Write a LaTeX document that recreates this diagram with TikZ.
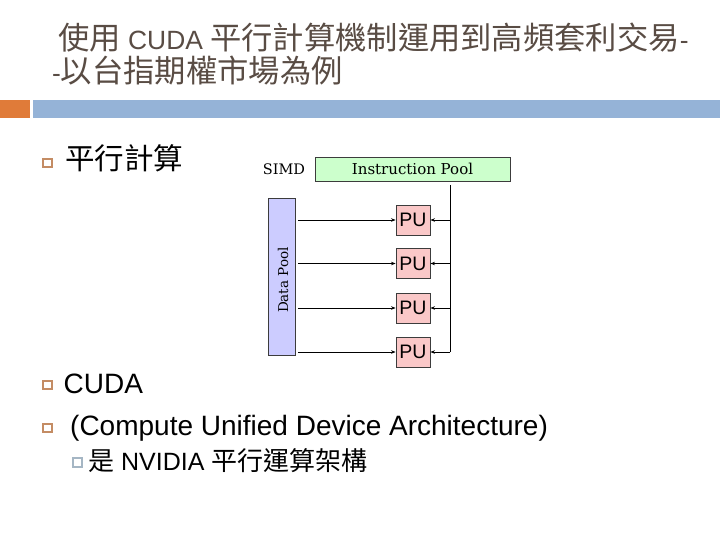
\documentclass[tikz,border=0pt]{standalone}
\usepackage{fontspec}
\setmainfont{Liberation Sans}
\newfontfamily\cjk{Noto Sans CJK TC}
\newfontfamily\dserif{DejaVu Serif}
\usetikzlibrary{arrows.meta}
\definecolor{titlecol}{RGB}{89,76,68}
\definecolor{orangebar}{RGB}{224,123,57}
\definecolor{bluebar}{RGB}{149,179,215}
\definecolor{bulcol}{RGB}{196,140,100}
\definecolor{subbulcol}{RGB}{165,182,196}
\definecolor{ipgreen}{RGB}{204,255,204}
\definecolor{dpblue}{RGB}{204,204,255}
\definecolor{pupink}{RGB}{250,200,200}
\definecolor{edgecol}{RGB}{60,60,60}
\newcommand\titlecjk[1]{{\cjk\fontsize{31.3}{32}\selectfont #1}}
\newcommand\bodycjk[1]{{\cjk\fontsize{29.5}{30}\selectfont #1}}
\newcommand\subcjk[1]{{\cjk\fontsize{26}{26}\selectfont #1}}
\begin{document}
\begin{tikzpicture}[x=1pt,y=-1pt,
  bul/.style={draw=bulcol,line width=2.4pt,minimum size=8.5pt,inner sep=0pt},
  subbul/.style={draw=subbulcol,line width=1.5pt,minimum size=9pt,inner sep=0pt},
  bodytext/.style={anchor=base west,inner sep=0pt,font=\fontsize{28}{30}\selectfont},
  boxbase/.style={draw=edgecol,line width=0.9pt,inner sep=0pt},
  pubox/.style={boxbase,fill=pupink,minimum width=34pt,minimum height=30pt,font=\fontsize{19.5}{20}\selectfont},
  serifl/.style={font=\dserif\fontsize{13.5}{14}\selectfont,inner sep=0pt},
  arr/.style={draw=black,line width=0.9pt,-{Stealth[length=4.5pt,width=3.5pt]}}
]
\useasboundingbox (0,0) rectangle (720,540);
\fill[white] (0,0) rectangle (720,540);

% title
\node[anchor=base west,inner sep=0pt,text=titlecol,font=\fontsize{26.4}{28}\selectfont] (title1) at (58,50)
  {\titlecjk{使用} CUDA \titlecjk{平行計算機制運用到高頻套利交易}-};
\node[anchor=base west,inner sep=0pt,text=titlecol,font=\fontsize{26.4}{28}\selectfont] (title2) at (52,83)
  {-\titlecjk{以台指期權市場為例}};

% bars
\fill[orangebar] (0,100) rectangle (30,118);
\fill[bluebar] (33,100) rectangle (720,118);

% bullets
\node[bul] (b1) at (47.5,163) {};
\node[bodytext] (t1) at (65,170) {\bodycjk{平行計算}};
\node[bul] (b2) at (47.5,385) {};
\node[bodytext] (t2) at (63.5,393) {CUDA};
\node[bul] (b3) at (47.5,428) {};
\node[bodytext] (t3) at (70,435) {(Compute Unified Device Architecture)};
\node[subbul] (b4) at (77.5,462.5) {};
\node[anchor=base west,inner sep=0pt,font=\fontsize{25}{26}\selectfont] (t4) at (88,470) {\subcjk{是} NVIDIA \subcjk{平行運算架構}};

% SIMD diagram
\node[serifl,font=\dserif\fontsize{14.5}{15}\selectfont] (simd) at (284,169) {SIMD};
\node[boxbase,fill=ipgreen,minimum width=195pt,minimum height=24pt,font=\dserif\fontsize{15}{15}\selectfont] (ip) at (412.5,169) {Instruction Pool};
\node[boxbase,fill=dpblue,minimum width=27pt,minimum height=157pt] (dp) at (281.5,276.5) {};
\node[serifl,rotate=90] (dpl) at (283,280) {Data Pool};
\node[pubox] (pu1) at (413,220) {PU};
\node[pubox] (pu2) at (413,263.5) {PU};
\node[pubox] (pu3) at (413,308) {PU};
\node[pubox] (pu4) at (413,352) {PU};
\coordinate (vtop) at (450,185);
\coordinate (vbot) at (450,352);
\draw[draw=black,line width=0.9pt] (vtop) -- (vbot);
\foreach \p in {pu1,pu2,pu3,pu4}{
  \draw[arr,shorten <=3pt] (dp.east |- \p.west) -- (\p.west);
  \draw[arr] (vtop |- \p.east) -- (\p.east);
}
\end{tikzpicture}
\end{document}
